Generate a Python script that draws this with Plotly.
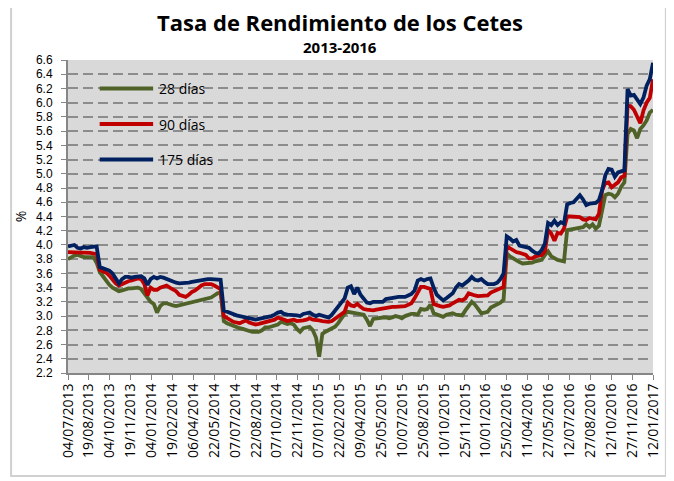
import plotly.graph_objects as go
import pandas as pd

# ---------------- data (weekly, Thursdays) ----------------
week_start = "2013-07-04"

cetes_28 = [
    3.80, 3.83, 3.85, 3.86, 3.84, 3.83, 3.83, 3.83, 3.83, 3.75,
    3.62, 3.56, 3.49, 3.44, 3.40, 3.37, 3.35, 3.36, 3.38, 3.39,
    3.39, 3.40, 3.40, 3.38, 3.32, 3.25, 3.20, 3.17, 3.05, 3.14,
    3.18, 3.18, 3.16, 3.15, 3.14, 3.15, 3.16, 3.18, 3.19, 3.20,
    3.20, 3.21, 3.22, 3.24, 3.25, 3.26, 3.29, 3.32, 3.33, 2.93,
    2.90, 2.88, 2.86, 2.85, 2.83, 2.82, 2.80, 2.79, 2.78, 2.78,
    2.78, 2.80, 2.84, 2.84, 2.85, 2.86, 2.88, 2.92, 2.90, 2.89,
    2.90, 2.88, 2.82, 2.78, 2.83, 2.84, 2.85, 2.80, 2.70, 2.43,
    2.75, 2.78, 2.80, 2.82, 2.85, 2.90, 2.97, 3.03, 3.06, 3.05,
    3.05, 3.04, 3.03, 3.02, 2.95, 2.86, 2.96, 2.97, 2.97, 2.98,
    2.98, 2.97, 2.98, 3.00, 2.99, 2.97, 3.00, 3.02, 3.03, 3.03,
    3.02, 3.10, 3.09, 3.10, 3.16, 3.04, 3.02, 3.01, 2.99, 3.02,
    3.03, 3.04, 3.02, 3.01, 3.01, 3.08, 3.14, 3.20, 3.16, 3.10,
    3.04, 3.05, 3.06, 3.12, 3.14, 3.16, 3.19, 3.23, 3.88, 3.84,
    3.81, 3.78, 3.76, 3.74, 3.74, 3.75, 3.75, 3.77, 3.78, 3.79,
    3.86, 3.91, 3.84, 3.81, 3.79, 3.78, 3.77, 4.21, 4.22, 4.22,
    4.23, 4.24, 4.25, 4.29, 4.25, 4.29, 4.23, 4.27, 4.50, 4.70,
    4.72, 4.71, 4.67, 4.72, 4.82, 4.88, 5.56, 5.63, 5.61, 5.50,
    5.63, 5.68, 5.75, 5.86, 5.90,
]

cetes_90 = [
    3.90, 3.90, 3.90, 3.90, 3.90, 3.90, 3.90, 3.89, 3.88, 3.87,
    3.65, 3.63, 3.61, 3.57, 3.52, 3.46, 3.43, 3.45, 3.48, 3.49,
    3.50, 3.51, 3.53, 3.52, 3.45, 3.29, 3.40, 3.37, 3.37, 3.40,
    3.42, 3.43, 3.40, 3.37, 3.35, 3.30, 3.28, 3.27, 3.30, 3.34,
    3.36, 3.40, 3.43, 3.45, 3.45, 3.45, 3.43, 3.40, 3.38, 3.00,
    2.97, 2.95, 2.92, 2.91, 2.90, 2.92, 2.94, 2.91, 2.90, 2.88,
    2.89, 2.90, 2.91, 2.92, 2.93, 2.95, 2.98, 2.97, 2.95, 2.93,
    2.94, 2.95, 2.93, 2.93, 2.94, 2.95, 2.97, 2.95, 2.95, 2.94,
    2.93, 2.92, 2.92, 2.93, 2.96, 2.99, 3.02, 3.06, 3.19, 3.15,
    3.14, 3.17, 3.13, 3.10, 3.09, 3.08, 3.08, 3.09, 3.10, 3.10,
    3.11, 3.12, 3.13, 3.13, 3.13, 3.14, 3.14, 3.16, 3.18, 3.25,
    3.34, 3.41, 3.41, 3.40, 3.38, 3.17, 3.15, 3.14, 3.13, 3.14,
    3.15, 3.18, 3.21, 3.23, 3.22, 3.25, 3.32, 3.30, 3.29, 3.28,
    3.28, 3.29, 3.29, 3.33, 3.35, 3.36, 3.38, 3.41, 3.98, 3.95,
    3.92, 3.90, 3.89, 3.88, 3.86, 3.81, 3.81, 3.84, 3.85, 3.86,
    3.91, 4.21, 4.16, 4.06, 4.17, 4.16, 4.23, 4.40, 4.40, 4.40,
    4.40, 4.39, 4.36, 4.35, 4.38, 4.37, 4.36, 4.44, 4.77, 4.87,
    4.88, 4.81, 4.85, 4.88, 4.95, 4.97, 5.96, 5.95, 5.90, 5.80,
    5.71, 5.89, 6.00, 6.07, 6.33,
]

cetes_175 = [
    3.98, 3.99, 4.00, 3.96, 3.95, 3.97, 3.96, 3.97, 3.97, 3.98,
    3.69, 3.67, 3.66, 3.64, 3.60, 3.52, 3.46, 3.52, 3.55, 3.55,
    3.54, 3.55, 3.55, 3.56, 3.53, 3.44, 3.52, 3.55, 3.53, 3.55,
    3.54, 3.52, 3.50, 3.48, 3.47, 3.46, 3.46, 3.47, 3.47, 3.48,
    3.49, 3.50, 3.51, 3.52, 3.52, 3.52, 3.52, 3.52, 3.51, 3.08,
    3.06, 3.04, 3.02, 3.01, 3.00, 2.99, 2.99, 2.98, 2.97, 2.95,
    2.96, 2.97, 2.97, 2.98, 3.00, 3.02, 3.05, 3.06, 3.03, 3.02,
    3.02, 3.02, 3.01, 3.00, 3.03, 3.04, 3.05, 3.02, 3.00, 3.02,
    3.01, 3.00, 2.98, 3.02, 3.08, 3.14, 3.19, 3.25, 3.40, 3.42,
    3.31, 3.40, 3.30, 3.24, 3.19, 3.18, 3.20, 3.20, 3.20, 3.20,
    3.24, 3.25, 3.25, 3.26, 3.27, 3.27, 3.27, 3.29, 3.31, 3.36,
    3.50, 3.52, 3.50, 3.52, 3.53, 3.40, 3.30, 3.26, 3.22, 3.25,
    3.28, 3.32, 3.40, 3.45, 3.43, 3.46, 3.50, 3.55, 3.51, 3.50,
    3.52, 3.48, 3.45, 3.45, 3.45, 3.47, 3.52, 3.60, 4.12, 4.09,
    4.05, 4.07, 3.99, 3.98, 3.97, 3.96, 3.92, 3.89, 3.88, 3.93,
    4.02, 4.31, 4.28, 4.34, 4.28, 4.32, 4.30, 4.57, 4.59, 4.60,
    4.65, 4.70, 4.64, 4.56, 4.58, 4.58, 4.59, 4.63, 4.77, 4.98,
    5.07, 5.06, 4.96, 5.02, 5.04, 5.05, 6.19, 6.10, 6.11, 6.05,
    5.98, 6.07, 6.24, 6.33, 6.56,
]

series_names = ["28 días", "90 días", "175 días"]

tick_labels = [
    "04/07/2013", "19/08/2013", "04/10/2013", "19/11/2013", "04/01/2014",
    "19/02/2014", "06/04/2014", "22/05/2014", "07/07/2014", "22/08/2014",
    "07/10/2014", "22/11/2014", "07/01/2015", "22/02/2015", "09/04/2015",
    "25/05/2015", "10/07/2015", "25/08/2015", "10/10/2015", "25/11/2015",
    "10/01/2016", "25/02/2016", "11/04/2016", "27/05/2016", "12/07/2016",
    "27/08/2016", "12/10/2016", "27/11/2016", "12/01/2017",
]

title_text = "Tasa de Rendimiento de los Cetes"
subtitle_text = "2013-2016"
y_title = "%"

# ---------------- figure ----------------
dates = pd.date_range(week_start, periods=len(cetes_28), freq="7D")
tickvals = pd.to_datetime(tick_labels, format="%d/%m/%Y")

colors = ["#4F6228", "#C00000", "#002060"]
series = [cetes_28, cetes_90, cetes_175]

FONT = "Open Sans"
TICKFONT_Y = "Liberation Sans"

# the page body has an 8px margin: the figure is sized so it fits the window
W, H = 666, 473
L, R, T, B = 58, 17, 52, 108
PW, PH = W - L - R, H - T - B

def px_x(x):   # figure px -> paper x
    return (x - L) / PW

def px_y(y):   # figure px -> paper y
    return (H - B - y) / PH

fig = go.Figure()
for name, vals, col in zip(series_names, series, colors):
    fig.add_trace(go.Scatter(x=dates, y=vals, mode="lines", name=name,
                             line=dict(color=col, width=3.8),
                             showlegend=False))

# manual legend (line samples + text) inside the plot area
legend_y = [6.2, 5.7, 5.2]
shapes = []
annotations = []
for name, col, ly in zip(series_names, colors, legend_y):
    shapes.append(dict(type="line", xref="paper", yref="y",
                       x0=px_x(90), x1=px_x(144), y0=ly, y1=ly,
                       line=dict(color=col, width=4)))
    annotations.append(dict(xref="paper", yref="y", x=px_x(148), y=ly,
                            text=name, showarrow=False, xanchor="left",
                            yanchor="middle",
                            font=dict(family=FONT, size=14, color="#000")))

# outer chart border
shapes.append(dict(type="rect", xref="paper", yref="paper",
                   x0=px_x(0.5), x1=px_x(662), y0=px_y(468), y1=px_y(-6),
                   line=dict(color="#d0d0d0", width=2), layer="below"))

annotations.append(dict(xref="paper", yref="paper", x=px_x(333),
                        y=px_y(39.5), text="<b>" + subtitle_text + "</b>",
                        showarrow=False, xanchor="center", yanchor="middle",
                        font=dict(family=FONT, size=15, color="#000")))

fig.update_layout(
    width=W, height=H,
    margin=dict(l=L, r=R, t=T, b=B),
    paper_bgcolor="white", plot_bgcolor="#d9d9d9",
    font=dict(family=FONT, size=14, color="black"),
    title=dict(text="<b>" + title_text + "</b>", x=332 / W, xref="container",
               xanchor="center", y=1 - 15.5 / H, yref="container",
               yanchor="middle", font=dict(family=FONT, size=22, color="#000")),
    shapes=shapes,
    annotations=annotations,
    xaxis=dict(type="date", range=[tickvals[0], tickvals[-1]],
               tickvals=tickvals, ticktext=tick_labels, tickangle=-90,
               ticks="outside", ticklen=5, tickcolor="#868686", tickwidth=1,
               showline=True, linecolor="#868686", linewidth=2,
               showgrid=False, zeroline=False, ticklabelstandoff=-2,
               tickfont=dict(family=FONT, size=14, color="#000")),
    yaxis=dict(range=[2.2, 6.6], tick0=2.2, dtick=0.2, tickformat=".1f",
               ticks="outside", ticklen=5, tickcolor="#868686", tickwidth=1,
               showline=True, linecolor="#868686", linewidth=2,
               showgrid=True, gridcolor="#8c8c8c", gridwidth=2,
               griddash="10px,5px", zeroline=False, ticklabelstandoff=6,
               tickfont=dict(family=TICKFONT_Y, size=12, color="#000"),
               title=dict(text=y_title, standoff=6,
                          font=dict(family=FONT, size=14, color="#000"))),
)

fig.write_html("out.html")
